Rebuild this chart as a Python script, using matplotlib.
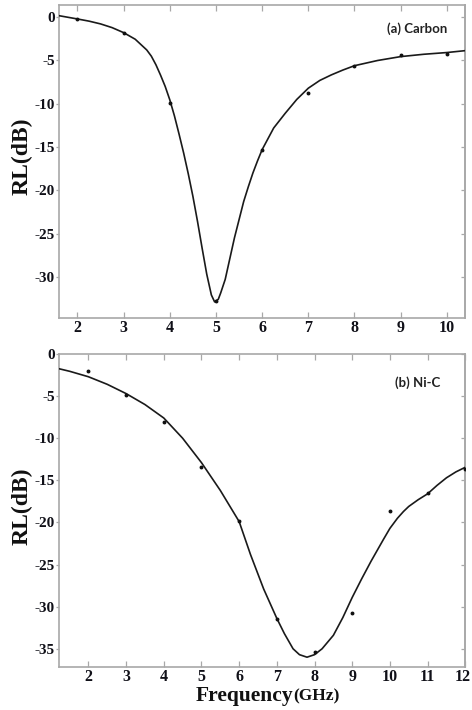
import matplotlib
matplotlib.use("Agg")
import matplotlib.pyplot as plt
import matplotlib.transforms as mtransforms

# ---- data ----
carbon_fit_f = [1.6, 2.0, 2.25, 2.5, 2.75, 3.0, 3.25, 3.5, 3.6, 3.7, 3.8, 3.9, 4.0,
                4.1, 4.2, 4.3, 4.4, 4.5, 4.6, 4.7, 4.8, 4.9, 4.97, 5.05, 5.1, 5.2,
                5.3, 5.4, 5.5, 5.6, 5.7, 5.8, 5.9, 6.0, 6.25, 6.5, 6.75, 7.0, 7.25,
                7.5, 7.75, 8.0, 8.5, 9.0, 9.5, 10.0, 10.4]
carbon_fit_rl = [0.18, -0.2, -0.45, -0.77, -1.2, -1.78, -2.54, -3.78, -4.5, -5.5,
                 -6.7, -8.0, -9.55, -11.4, -13.5, -15.7, -18.1, -20.7, -23.6, -26.7,
                 -29.7, -32.1, -32.9, -32.6, -31.9, -30.3, -27.9, -25.5, -23.4, -21.3,
                 -19.6, -18.0, -16.6, -15.3, -12.8, -11.1, -9.5, -8.2, -7.3, -6.66,
                 -6.1, -5.6, -5.0, -4.55, -4.28, -4.08, -3.86]
carbon_pts_f = [2, 3, 4, 5, 6, 7, 8, 9, 10]
carbon_pts_rl = [-0.2, -1.85, -9.86, -32.8, -15.4, -8.78, -5.6, -4.35, -4.27]

nic_fit_f = [1.22, 1.5, 2.0, 2.5, 3.0, 3.5, 4.0, 4.5, 5.0, 5.5, 6.0, 6.3, 6.65, 7.0,
             7.2, 7.43, 7.6, 7.8, 8.0, 8.2, 8.5, 8.75, 9.0, 9.25, 9.5, 9.83, 10.0,
             10.2, 10.36, 10.5, 10.75, 11.0, 11.25, 11.5, 11.75, 12.0]
nic_fit_rl = [-1.75, -2.05, -2.7, -3.6, -4.7, -6.0, -7.6, -10.0, -12.9, -16.2, -19.9,
              -23.8, -27.9, -31.4, -33.2, -35.0, -35.7, -36.0, -35.7, -35.0, -33.4,
              -31.3, -28.9, -26.7, -24.6, -22.0, -20.7, -19.5, -18.7, -18.1, -17.3,
              -16.6, -15.6, -14.7, -14.0, -13.45]
nic_pts_f = [2, 3, 4, 5, 6, 7, 8, 9, 10, 11, 12]
nic_pts_rl = [-2.0, -4.9, -8.1, -13.45, -19.8, -31.5, -35.4, -30.7, -18.6, -16.5, -13.6]

top_xticks = [2, 3, 4, 5, 6, 7, 8, 9, 10]
top_yticks = [0, -5, -10, -15, -20, -25, -30]
bot_xticks = [2, 3, 4, 5, 6, 7, 8, 9, 10, 11, 12]
bot_yticks = [0, -5, -10, -15, -20, -25, -30, -35]

# ---- figure ----
W, H = 472, 710
fig = plt.figure(figsize=(W / 100, H / 100), dpi=100)

spine_c = "#a8a8a8"
lab_c = "#101018"
serif = ["Liberation Serif", "DejaVu Serif"]


def style(ax, xticks, yticks):
    for s in ax.spines.values():
        s.set_color(spine_c)
        s.set_linewidth(1.2)
    ax.set_xticks(xticks)
    ax.set_yticks(yticks)
    ax.set_xticklabels([str(t) for t in xticks], fontfamily=serif,
                       fontweight="bold", fontsize=11.5, color=lab_c)
    ax.set_yticklabels([str(t) if t == 0 else "-%d" % abs(t) for t in yticks],
                       fontfamily=serif, fontweight="bold", fontsize=11, color=lab_c)
    ax.tick_params(axis="x", which="major", direction="in", top=True, bottom=True,
                   length=4, width=0.9, color=spine_c, pad=1.5)
    ax.tick_params(axis="y", which="major", direction="out", left=True, right=False,
                   length=2, width=0.9, color=spine_c, pad=1)
    sec = ax.secondary_yaxis("right")
    sec.set_yticks(yticks)
    sec.set_yticklabels([])
    sec.tick_params(direction="in", length=3, width=0.9, color=spine_c)
    sec.spines["right"].set_color(spine_c)
    sec.spines["right"].set_linewidth(1.2)


ax1 = fig.add_axes([59 / W, 1 - 318.3 / H, (465.3 - 59) / W, (318.3 - 4.7) / H])
ax1.plot(carbon_fit_f, carbon_fit_rl, color="#1a1a1a", lw=1.2, zorder=3)
ax1.plot(carbon_pts_f, carbon_pts_rl, "o", color="#111", ms=1.8, zorder=4)
ax1.set_xlim(1.6, 10.4)
ax1.set_ylim(-34.8, 1.45)
style(ax1, top_xticks, top_yticks)

ax2 = fig.add_axes([59 / W, 1 - 667.3 / H, (465.3 - 59) / W, (667.3 - 354) / H])
ax2.plot(nic_fit_f, nic_fit_rl, color="#1a1a1a", lw=1.2, zorder=3)
ax2.plot(nic_pts_f, nic_pts_rl, "o", color="#111", ms=1.8, zorder=4)
ax2.set_xlim(1.22, 12)
ax2.set_ylim(-37.2, 0)
style(ax2, bot_xticks, bot_yticks)

# keep the last bottom tick label ("12") inside the image
last = ax2.get_xticklabels()[-1]
last.set_transform(last.get_transform() +
                   mtransforms.ScaledTranslation(-3 / 100, 0, fig.dpi_scale_trans))

# panel labels
fig.text(417 / W, 1 - 29 / H, "(a) Carbon", family=["Lato", "DejaVu Sans"],
         fontweight="bold", fontsize=9.5, color="#222", ha="center", va="center")
fig.text(417.7 / W, 1 - 382.7 / H, "(b) Ni-C", family=["Lato", "DejaVu Sans"],
         fontweight="bold", fontsize=9.5, color="#222", ha="center", va="center")

# y labels
for yc in (156.7, 506.7):
    fig.text(21.7 / W, 1 - yc / H, "RL(dB)", family=serif, fontweight="bold",
             fontsize=17, color="#111", rotation=90, ha="center", va="center")

# x label
fig.text(293 / W, 1 - 700.5 / H, "Frequency", family=serif, fontweight="bold",
         fontsize=15.5, color="#111", ha="right", va="baseline")
fig.text(293 / W, 1 - 700.5 / H, "(GHz)", family=serif, fontweight="bold",
         fontsize=12.5, color="#111", ha="left", va="baseline")

fig.savefig("out.png", dpi=100)
